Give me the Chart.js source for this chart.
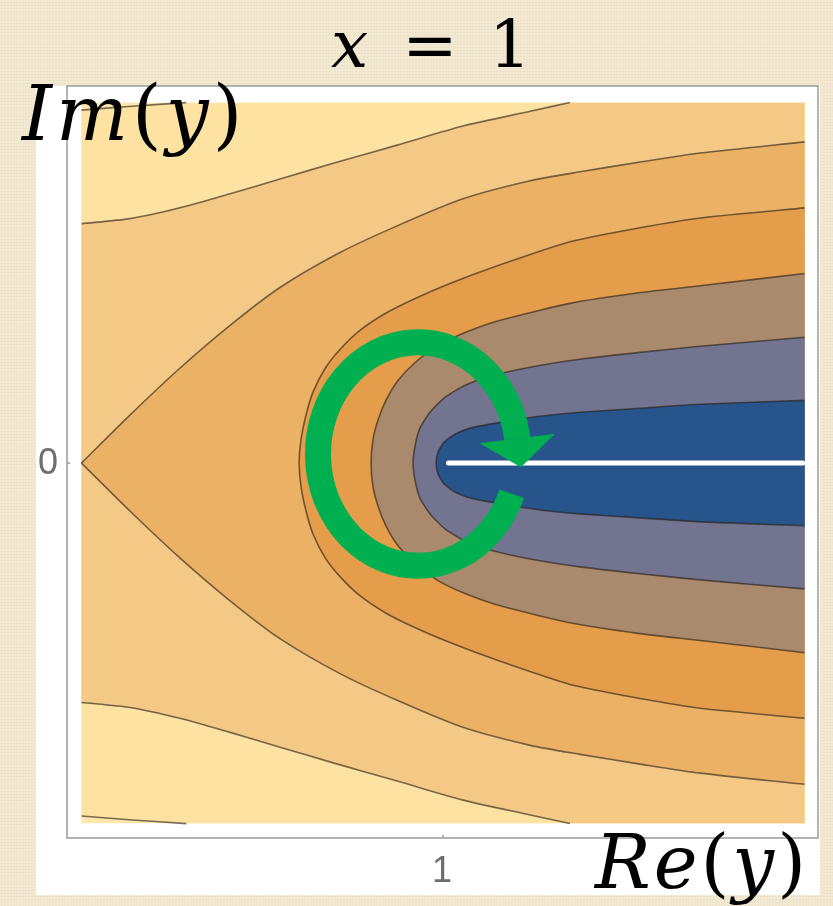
<!DOCTYPE html>
<html>
<head>
<meta charset="utf-8">
<script src="https://cdn.jsdelivr.net/npm/chart.js@4.4.1/dist/chart.umd.min.js"></script>
<style>
  html, body { margin: 0; padding: 0; }
  body {
    width: 833px; height: 906px; overflow: hidden;
    background-color: #f2e7cf;
    background-image:
      repeating-linear-gradient(90deg, rgba(255,255,255,0.16) 0 1px, rgba(255,255,255,0) 1px 3px),
      repeating-linear-gradient(0deg, rgba(150,110,50,0.05) 0 1px, rgba(0,0,0,0) 1px 3px);
  }
  canvas { display: block; }
</style>
</head>
<body>
<canvas id="plot" width="833" height="906"></canvas>
<script>
// plot domain and ticks
const reRange = [0, 2];
const imRange = [-1, 1];
const reTicks = [1];
const imTicks = [0];

// contour lines, upper half only (Im >= 0) - the field is symmetric about Im = 0
const c0Re = [0, 0.14, 0.29];
const c0Im = [0.979, 0.99, 1.0];
const c1Re = [0, 0.134, 0.272, 0.411, 0.549, 0.701, 0.873, 1.055, 1.241, 1.351];
const c1Im = [0.664, 0.678, 0.708, 0.747, 0.788, 0.833, 0.882, 0.935, 0.976, 1.0];
const c2Re = [0, 0.134, 0.272, 0.411, 0.549, 0.715, 0.873, 1.055, 1.241, 1.379, 1.545, 1.711, 2.0];
const c2Im = [0, 0.133, 0.263, 0.382, 0.487, 0.584, 0.658, 0.733, 0.783, 0.808, 0.835, 0.860, 0.891];
const c3Re = [0.602, 0.607, 0.621, 0.640, 0.674, 0.715, 0.770, 0.840, 0.917, 1.019, 1.158, 1.351, 1.545, 1.711, 2.0];
const c3Im = [0, 0.064, 0.133, 0.196, 0.263, 0.315, 0.368, 0.415, 0.454, 0.498, 0.550, 0.614, 0.653, 0.680, 0.708];
const c4Re = [0.801, 0.806, 0.820, 0.842, 0.876, 0.923, 0.986, 1.061, 1.158, 1.351, 1.545, 1.711, 2.0];
const c4Im = [0, 0.064, 0.119, 0.174, 0.230, 0.279, 0.326, 0.362, 0.396, 0.443, 0.473, 0.492, 0.526];
const c5Re = [0.917, 0.923, 0.936, 0.964, 1.006, 1.061, 1.130, 1.241, 1.379, 1.545, 1.711, 2.0];
const c5Im = [0, 0.050, 0.097, 0.141, 0.183, 0.216, 0.241, 0.266, 0.288, 0.307, 0.324, 0.349];
const c6Re = [0.981, 0.986, 1.003, 1.033, 1.075, 1.158, 1.268, 1.379, 1.545, 1.711, 2.0];
const c6Im = [0, 0.030, 0.058, 0.080, 0.097, 0.113, 0.130, 0.141, 0.152, 0.163, 0.174];

// branch cut on the real axis
const cutRe = [1.015, 1.995];
const cutIm = [0, 0];

// band colours, outermost first
const palette = ['#fde6ab', '#fde2a2', '#f4c986', '#ebb266', '#e39d4b', '#a98a6c', '#727490', '#27558b'];

// green loop around the branch point (centre and radii in plot units)
const loop = { re: 0.931, im: 0.025, rRe: 0.277, rIm: 0.31, from: 20.8, to: 352, width: 26, head: 38, headLen: 29, color: '#00b050' };

function pts(re, im, sign) {
  return re.map((r, i) => ({ x: r, y: sign * im[i] }));
}
// lower branch then upper branch, sorted by Im
function fullCurve(re, im) {
  const lower = pts(re, im, -1).reverse();
  const upper = pts(re, im, 1);
  return im[0] === 0 ? lower.concat(upper.slice(1)) : lower.concat(upper);
}

const curves = [[c0Re, c0Im], [c1Re, c1Im], [c2Re, c2Im], [c3Re, c3Im], [c4Re, c4Im], [c5Re, c5Im], [c6Re, c6Im]];
const closedSmooth = i => i >= 3; // parabolic contours have a round tip

const datasets = [];

// filled bands: each one fills from its contour to the right edge
datasets.push({
  data: [{ x: reRange[0], y: imRange[0] }, { x: reRange[0], y: imRange[1] }],
  backgroundColor: palette[0], borderColor: 'rgba(0,0,0,0)', borderWidth: 0,
  fill: { value: reRange[1] }, order: 20
});
curves.forEach(([re, im], i) => {
  datasets.push({
    data: fullCurve(re, im),
    backgroundColor: palette[i + 1], borderColor: 'rgba(0,0,0,0)', borderWidth: 0,
    fill: { value: reRange[1] }, tension: closedSmooth(i) ? 0.2 : 0, order: 19 - i
  });
});

// contour lines on top of the bands
const lineStyle = { borderColor: 'rgba(40,30,20,0.62)', borderWidth: 1.6, fill: false, order: 2 };
curves.forEach(([re, im], i) => {
  if (closedSmooth(i)) {
    datasets.push(Object.assign({ data: fullCurve(re, im), tension: 0.2 }, lineStyle));
  } else {
    // open branches (and the wedge, split at its corner) drawn separately
    datasets.push(Object.assign({ data: pts(re, im, 1), tension: 0.25 }, lineStyle));
    datasets.push(Object.assign({ data: pts(re, im, -1), tension: 0.25 }, lineStyle));
  }
});

datasets.push({
  data: cutRe.map((r, i) => ({ x: r, y: cutIm[i] })),
  borderColor: '#ffffff', borderWidth: 5, borderCapStyle: 'round', fill: false, order: 1
});

function drawMath(ctx, parts, x, y, size, align, gap) {
  const fontOf = it => (it ? 'italic ' : '') + size + 'px "DejaVu Serif"';
  let total = 0;
  parts.forEach(([t, it]) => { ctx.font = fontOf(it); total += ctx.measureText(t).width; });
  total += gap * (parts.length - 1);
  let cx = align === 'right' ? x - total : x;
  ctx.textAlign = 'left';
  ctx.textBaseline = 'alphabetic';
  parts.forEach(([t, it]) => {
    ctx.font = fontOf(it);
    ctx.fillText(t, cx, y);
    cx += ctx.measureText(t).width + gap;
  });
}

const decorations = {
  id: 'decorations',
  beforeDraw(chart) {
    const ctx = chart.ctx;
    ctx.save();
    ctx.fillStyle = '#ffffff';
    ctx.fillRect(36, 86, 784, 809);
    ctx.restore();
  },
  afterDatasetsDraw(chart) {
    const { ctx, scales: { x, y } } = chart;
    const cx = x.getPixelForValue(loop.re);
    const cy = y.getPixelForValue(loop.im);
    const rx = Math.abs(x.getPixelForValue(loop.re + loop.rRe) - cx);
    const ry = Math.abs(y.getPixelForValue(loop.im + loop.rIm) - cy);
    const a0 = loop.from * Math.PI / 180;
    const a1 = loop.to * Math.PI / 180;
    ctx.save();
    ctx.strokeStyle = loop.color;
    ctx.fillStyle = loop.color;
    ctx.lineWidth = loop.width;
    ctx.lineCap = 'butt';
    ctx.beginPath();
    ctx.ellipse(cx, cy, rx, ry, 0, a0, a1);
    ctx.stroke();
    // arrow head at the end of the arc
    const px = cx + rx * Math.cos(a1), py = cy + ry * Math.sin(a1);
    let tx = -rx * Math.sin(a1), ty = ry * Math.cos(a1);
    const n = Math.hypot(tx, ty); tx /= n; ty /= n;
    ctx.beginPath();
    ctx.moveTo(px - ty * loop.head, py + tx * loop.head);
    ctx.lineTo(px + ty * loop.head, py - tx * loop.head);
    ctx.lineTo(px + tx * loop.headLen, py + ty * loop.headLen);
    ctx.closePath();
    ctx.fill();
    ctx.restore();
  },
  afterDraw(chart) {
    const { ctx, chartArea: a, scales: { x, y } } = chart;
    ctx.save();
    // frame
    ctx.strokeStyle = '#9a9a9a';
    ctx.lineWidth = 1.5;
    ctx.strokeRect(a.left, a.top, a.right - a.left, a.bottom - a.top);
    // ticks and tick labels
    ctx.fillStyle = '#6e6e6e';
    ctx.font = '36px "Liberation Sans"';
    ctx.textBaseline = 'middle';
    ctx.textAlign = 'center';
    reTicks.forEach(v => {
      const px = x.getPixelForValue(v);
      ctx.beginPath(); ctx.moveTo(px, a.bottom); ctx.lineTo(px, a.bottom - 3); ctx.stroke();
      ctx.fillText(String(v), px - 1, a.bottom + 34);
    });
    imTicks.forEach(v => {
      const py = y.getPixelForValue(v);
      ctx.beginPath(); ctx.moveTo(a.left, py); ctx.lineTo(a.left + 3, py); ctx.stroke();
      ctx.fillText(String(v), a.left - 19, py + 1);
    });
    // title and axis labels
    ctx.fillStyle = '#000000';
    drawMath(ctx, [['x', true]], 331, 67, 66, 'left', 0);
    ctx.font = '66px "DejaVu Serif"';
    ctx.textAlign = 'center';
    ctx.fillText('=', 430, 67);
    ctx.fillText('1', 510, 67);
    drawMath(ctx, [['I', true], ['m', true], ['(', false], ['y', true], [')', false]], 22, 140, 76, 'left', 4);
    drawMath(ctx, [['R', true], ['e', true], ['(', false], ['y', true], [')', false]], 806, 888, 74, 'right', 3);
    ctx.restore();
  }
};

new Chart(document.getElementById('plot'), {
  type: 'line',
  data: { datasets },
  options: {
    indexAxis: 'y',
    responsive: false,
    devicePixelRatio: 1,
    animation: false,
    events: [],
    layout: { padding: { left: 67, top: 86, right: 15, bottom: 68 } },
    elements: { point: { radius: 0 }, line: { tension: 0 } },
    scales: {
      x: { type: 'linear', min: -0.04, max: 2.037, display: false },
      y: { type: 'linear', min: -1.04, max: 1.046, display: false }
    },
    plugins: { legend: { display: false }, tooltip: { enabled: false } }
  },
  plugins: [decorations]
});
</script>
</body>
</html>
